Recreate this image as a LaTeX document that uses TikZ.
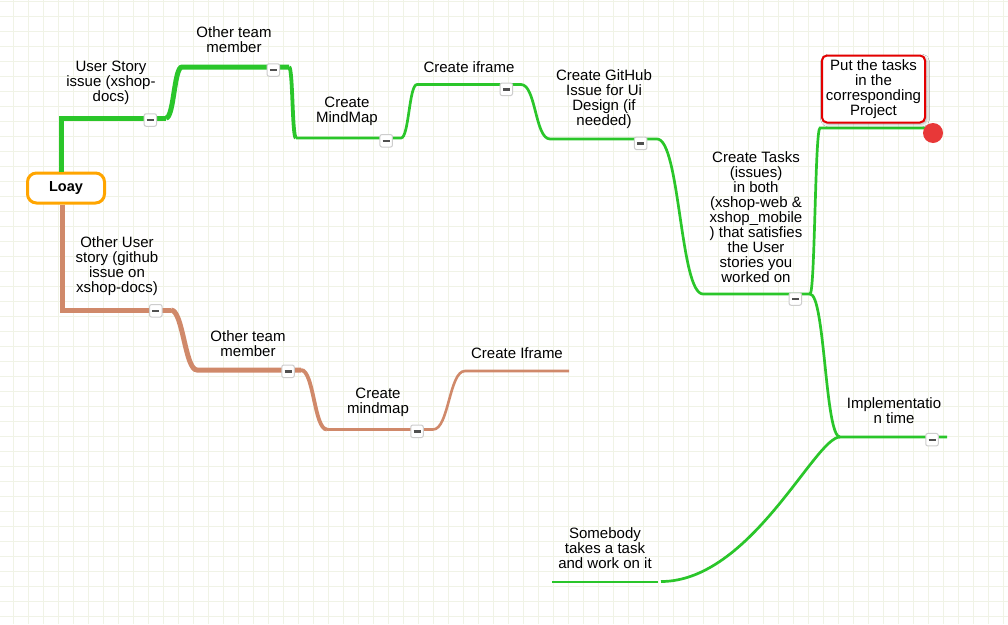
\documentclass[tikz,border=0pt]{standalone}
\usepackage{fontspec}
\setmainfont{Liberation Sans}
\usetikzlibrary{shadows.blur}
\definecolor{gridc}{RGB}{240,243,230}
\definecolor{mmgreen}{RGB}{42,198,42}
\definecolor{mmbrown}{RGB}{208,137,106}
\definecolor{loayorange}{RGB}{255,165,0}
\definecolor{putred}{RGB}{228,0,0}
\definecolor{dotred}{RGB}{232,56,56}
\definecolor{btnborder}{RGB}{205,205,205}
\definecolor{btnbar}{RGB}{80,80,80}
\newcommand{\mmbar}{\textcolor{btnbar}{\rule{7pt}{2.4pt}}}
\begin{document}
\begin{tikzpicture}[x=1pt,y=-1pt,
  lbl/.style={font=\fontsize{15}{15}\selectfont, align=center, inner sep=0pt},
  gthick/.style={draw=mmgreen, line width=5pt},
  gmid/.style={draw=mmgreen, line width=3.8pt},
  gthin/.style={draw=mmgreen, line width=2.7pt},
  bthick/.style={draw=mmbrown, line width=5pt},
  bmid/.style={draw=mmbrown, line width=3.8pt},
  bthin/.style={draw=mmbrown, line width=2.6pt},
  btn/.style={draw=btnborder, fill=white, line width=1pt, rounded corners=2pt,
    minimum width=12.5pt, minimum height=12.5pt, inner sep=0pt},
  putbox/.style={lbl, draw=putred, line width=2pt, rounded corners=5pt, fill=white,
    minimum width=103pt, minimum height=67pt,
    blur shadow={shadow xshift=1.5pt, shadow yshift=-1.5pt, shadow blur radius=3pt, shadow opacity=35}},
  rootbox/.style={draw=loayorange, line width=3pt, rounded corners=9pt, fill=white,
    minimum width=77pt, minimum height=30pt, inner sep=0pt,
    font=\bfseries\fontsize{14.5}{15}\selectfont},
  gridline/.style={draw=gridc, line width=1pt}
]
\useasboundingbox (0,0) rectangle (1008,624);
\fill[white] (0,0) rectangle (1008,624);
\foreach \i in {0,...,66} \draw[gridline] ({13.3+15*\i},0) -- ({13.3+15*\i},624);
\foreach \j in {0,...,41} \draw[gridline] (0,{1.7+15*\j}) -- (1008,{1.7+15*\j});

% root
\node[rootbox] (loay) at (66,188) {Loay};

% anchor coordinates (underlines)
\coordinate (usL) at (61,118);   \coordinate (usR) at (166,118);
\coordinate (otmL) at (182,67);  \coordinate (otmR) at (289,67);
\coordinate (cmmL) at (296,138); \coordinate (cmmR) at (401,138);
\coordinate (cifL) at (417,84.5); \coordinate (cifR) at (521,84.5);
\coordinate (cghL) at (550,139); \coordinate (cghR) at (657,139);
\coordinate (ctL) at (703,294);  \coordinate (ctR) at (810,294);
\coordinate (putL) at (820,128); \coordinate (putR) at (928,128);
\coordinate (impL) at (840,437); \coordinate (impR) at (947,437);
\coordinate (somC) at (661,581.5);
\coordinate (somL) at (552,582); \coordinate (somR) at (658,582);
\coordinate (ousL) at (62,310);  \coordinate (ousR) at (171,310);
\coordinate (otmbL) at (197,370); \coordinate (otmbR) at (301,370);
\coordinate (cmmbL) at (327,429.5); \coordinate (cmmbR) at (433,429.5);
\coordinate (cifbL) at (465,371); \coordinate (cifbR) at (569,371);

% green branch
\draw[gthick] (loay.north -| usL) -- (usL) -- (usR);
\draw[gthick] (usR) .. controls +(8,0) and +(-8,0) .. (otmL) -- (otmR);
\draw[gmid] (otmR) .. controls +(4,0) and +(-4,0) .. (cmmL);
\draw[gthin] (cmmL) -- (cmmR) .. controls +(8,0) and +(-8,0) .. (cifL) -- (cifR)
  .. controls +(15,0) and +(-15,0) .. (cghL) -- (cghR)
  .. controls +(23,0) and +(-23,0) .. (ctL) -- (ctR);
\draw[gthin] (ctR) .. controls +(5,0) and +(-5,0) .. (putL) -- (putR);
\draw[gthin] (ctR) .. controls +(15,0) and +(-15,0) .. (impL) -- (impR);
\draw[gthin] (impL) .. controls +(-25,0) and +(90,0) .. (somC);
\draw[gthin] (somL) -- (somR);

% brown branch
\draw[bthick] (loay.south -| ousL) -- (ousL) -- (ousR);
\draw[bthick] (ousR) .. controls +(12,0) and +(-12,0) .. (otmbL) -- (otmbR);
\draw[bmid] (otmbR) .. controls +(13,0) and +(-13,0) .. (cmmbL);
\draw[bthin] (cmmbL) -- (cmmbR) .. controls +(16,0) and +(-16,0) .. (cifbL) -- (cifbR);

% labels
\node[lbl] (us) at (111,83) {User Story\\issue (xshop-\\docs)};
\node[lbl] (otm) at (234,40) {Other team\\member};
\node[lbl] (cmm) at (347,111) {Create\\MindMap};
\node[lbl] (cif) at (469,67) {Create iframe};
\node[lbl] (cgh) at (604,99.5) {Create GitHub\\Issue for Ui\\Design (if\\needed)};
\node[lbl] (ct) at (756,216.7) {Create Tasks\\(issues)\\in both\\(xshop-web \&\\xshop\_mobile\\) that satisfies\\the User\\stories you\\worked on};
\node[putbox] (put) at (873.5,89) {Put the tasks\\in the\\corresponding\\Project};
\node[circle, fill=dotred, minimum size=20pt, inner sep=0pt] (dot) at (933,133) {};
\node[lbl] (imp) at (894,411) {Implementatio\\n time};
\node[lbl] (som) at (605,548) {Somebody\\takes a task\\and work on it};
\node[lbl] (ous) at (117,266.5) {Other User\\story (github\\issue on\\xshop-docs)};
\node[lbl] (otmb) at (248,343.5) {Other team\\member};
\node[lbl] (cmmb) at (378,402.5) {Create\\mindmap};
\node[lbl] (cifb) at (517,352.7) {Create Iframe};

% collapse buttons
\node[btn] (bus) at (150.3,120) {\mmbar};
\node[btn] (botm) at (273.3,70) {\mmbar};
\node[btn] (bcmm) at (386.2,140.8) {\mmbar};
\node[btn] (bcif) at (506.3,89.3) {\mmbar};
\node[btn] (bcgh) at (640.7,143.3) {\mmbar};
\node[btn] (bct) at (795.3,299) {\mmbar};
\node[btn] (bimp) at (932,439.7) {\mmbar};
\node[btn] (bous) at (155.8,310.8) {\mmbar};
\node[btn] (botmb) at (288,371.3) {\mmbar};
\node[btn] (bcmmb) at (417,431.3) {\mmbar};
\end{tikzpicture}
\end{document}
